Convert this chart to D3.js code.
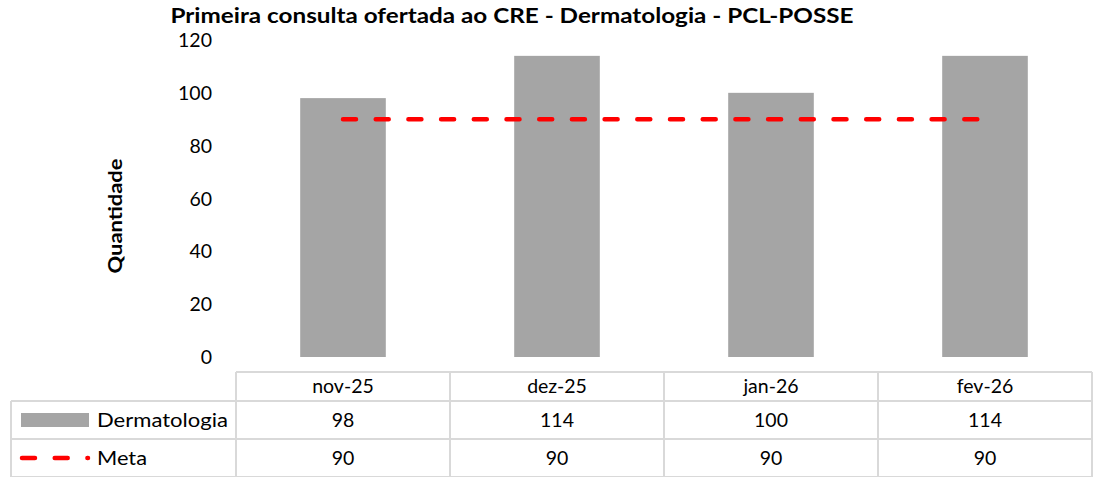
<!DOCTYPE html>
<html>
<head>
<meta charset="utf-8">
<script src="https://cdn.jsdelivr.net/npm/d3@7"></script>
<style>
  body { margin: 0; background: #fff; }
  svg text { font-family: Lato, "Noto Sans", sans-serif; fill: #000; }
</style>
</head>
<body>
<script>
// dados do grafico
let months = ["nov-25", "dez-25", "jan-26", "fev-26"]
let dermatologia = [98, 114, 100, 114]
let meta = [90, 90, 90, 90]
let yTicks = [0, 20, 40, 60, 80, 100, 120]
let seriesNames = ["Dermatologia", "Meta"]

let width = 1093
let height = 477

let barColor = "#a5a5a5"
let metaColor = "#ff0000"
let gridColor = "#d9d9d9"

let svg = d3.select("body")
            .append("svg")
            .attr("width", width)
            .attr("height", height)

let xScale = d3.scaleBand()
               .domain(months)
               .range([236, 1092])
               .paddingInner(0)

let yScale = d3.scaleLinear()
               .domain([0, 120])
               .range([357, 40])

// titulo (largura fixa para casar com a figura)
svg.append("text")
   .attr("x", 512)
   .attr("y", 22.5)
   .attr("text-anchor", "middle")
   .attr("textLength", 683)
   .attr("lengthAdjust", "spacingAndGlyphs")
   .style("font-weight", "bold")
   .style("font-size", "20px")
   .text("Primeira consulta ofertada ao CRE - Dermatologia - PCL-POSSE")

// eixo y (só rótulos, sem linha)
let yAxis = d3.axisLeft(yScale)
              .tickValues(yTicks)
              .tickSize(0)
              .tickPadding(0)

svg.append("g")
   .attr("transform", "translate(212,0)")
   .call(yAxis)
   .call(g => g.select(".domain").remove())
   .selectAll("text")
   .attr("dy", "0.34em")
   .style("font-size", "19.5px")
   .style("font-family", "Lato, 'Noto Sans', sans-serif")

svg.append("text")
   .attr("transform", "translate(122,216) rotate(-90)")
   .attr("text-anchor", "middle")
   .attr("textLength", 115)
   .attr("lengthAdjust", "spacingAndGlyphs")
   .style("font-weight", "bold")
   .style("font-size", "19.5px")
   .text("Quantidade")

// barras
let barW = xScale.bandwidth() * 0.4
svg.selectAll("rect.bar")
   .data(dermatologia)
   .enter()
   .append("rect")
   .attr("class", "bar")
   .attr("x", (d, i) => xScale(months[i]) + (xScale.bandwidth() - barW) / 2)
   .attr("y", d => yScale(d))
   .attr("width", barW)
   .attr("height", d => yScale(0) - yScale(d))
   .attr("fill", barColor)

// linha da meta
let line = d3.line()
             .x((d, i) => xScale(months[i]) + xScale.bandwidth() / 2)
             .y(d => yScale(d))

svg.append("path")
   .datum(meta)
   .attr("d", line)
   .attr("fill", "none")
   .attr("stroke", metaColor)
   .attr("stroke-width", 4.5)
   .attr("stroke-linecap", "round")
   .attr("stroke-dasharray", "13 19.7")

// tabela de dados
let rowTop = 372
let rowLines = [372, 401, 439, 477]
let tableLeft = 11
let tableRight = 1092

let grid = svg.append("g")
              .attr("stroke", gridColor)
              .attr("stroke-width", 2)

// linhas horizontais
rowLines.forEach((y, i) => {
    grid.append("line")
        .attr("x1", i == 0 ? 236 : tableLeft)
        .attr("x2", tableRight)
        .attr("y1", y)
        .attr("y2", y)
})

// linhas verticais
let colEdges = months.map(m => xScale(m)).concat([xScale.range()[1]])
colEdges.forEach(x => {
    grid.append("line")
        .attr("x1", x)
        .attr("x2", x)
        .attr("y1", rowTop)
        .attr("y2", height)
})
grid.append("line")
    .attr("x1", tableLeft)
    .attr("x2", tableLeft)
    .attr("y1", rowLines[1])
    .attr("y2", height)

let cellFont = "19.5px"

// cabecalho
svg.selectAll("text.head")
   .data(months)
   .enter()
   .append("text")
   .attr("class", "head")
   .attr("x", d => xScale(d) + xScale.bandwidth() / 2)
   .attr("y", (rowLines[0] + rowLines[1]) / 2)
   .attr("dy", "0.35em")
   .attr("text-anchor", "middle")
   .style("font-size", cellFont)
   .text(d => d)

let labelWidths = [131, 50]
let rows = [dermatologia, meta]
rows.forEach((vals, r) => {
    let cy = (rowLines[r + 1] + rowLines[r + 2]) / 2
    svg.selectAll("text.row" + r)
       .data(vals)
       .enter()
       .append("text")
       .attr("class", "row" + r)
       .attr("x", (d, i) => xScale(months[i]) + xScale.bandwidth() / 2)
       .attr("y", cy)
       .attr("dy", "0.35em")
       .attr("text-anchor", "middle")
       .style("font-size", cellFont)
       .text(d => d)

    svg.append("text")
       .attr("x", 97)
       .attr("y", cy)
       .attr("dy", "0.35em")
       .attr("textLength", labelWidths[r])
       .attr("lengthAdjust", "spacingAndGlyphs")
       .style("font-size", cellFont)
       .text(seriesNames[r])
})

// legendas na tabela
let cy0 = (rowLines[1] + rowLines[2]) / 2
svg.append("rect")
   .attr("x", 21)
   .attr("y", cy0 - 7)
   .attr("width", 68)
   .attr("height", 14)
   .attr("fill", barColor)

let cy1 = (rowLines[2] + rowLines[3]) / 2
svg.append("line")
   .attr("x1", 22)
   .attr("x2", 88)
   .attr("y1", cy1)
   .attr("y2", cy1)
   .attr("stroke", metaColor)
   .attr("stroke-width", 4.5)
   .attr("stroke-linecap", "round")
   .attr("stroke-dasharray", "13 19.7")
</script>
</body>
</html>
